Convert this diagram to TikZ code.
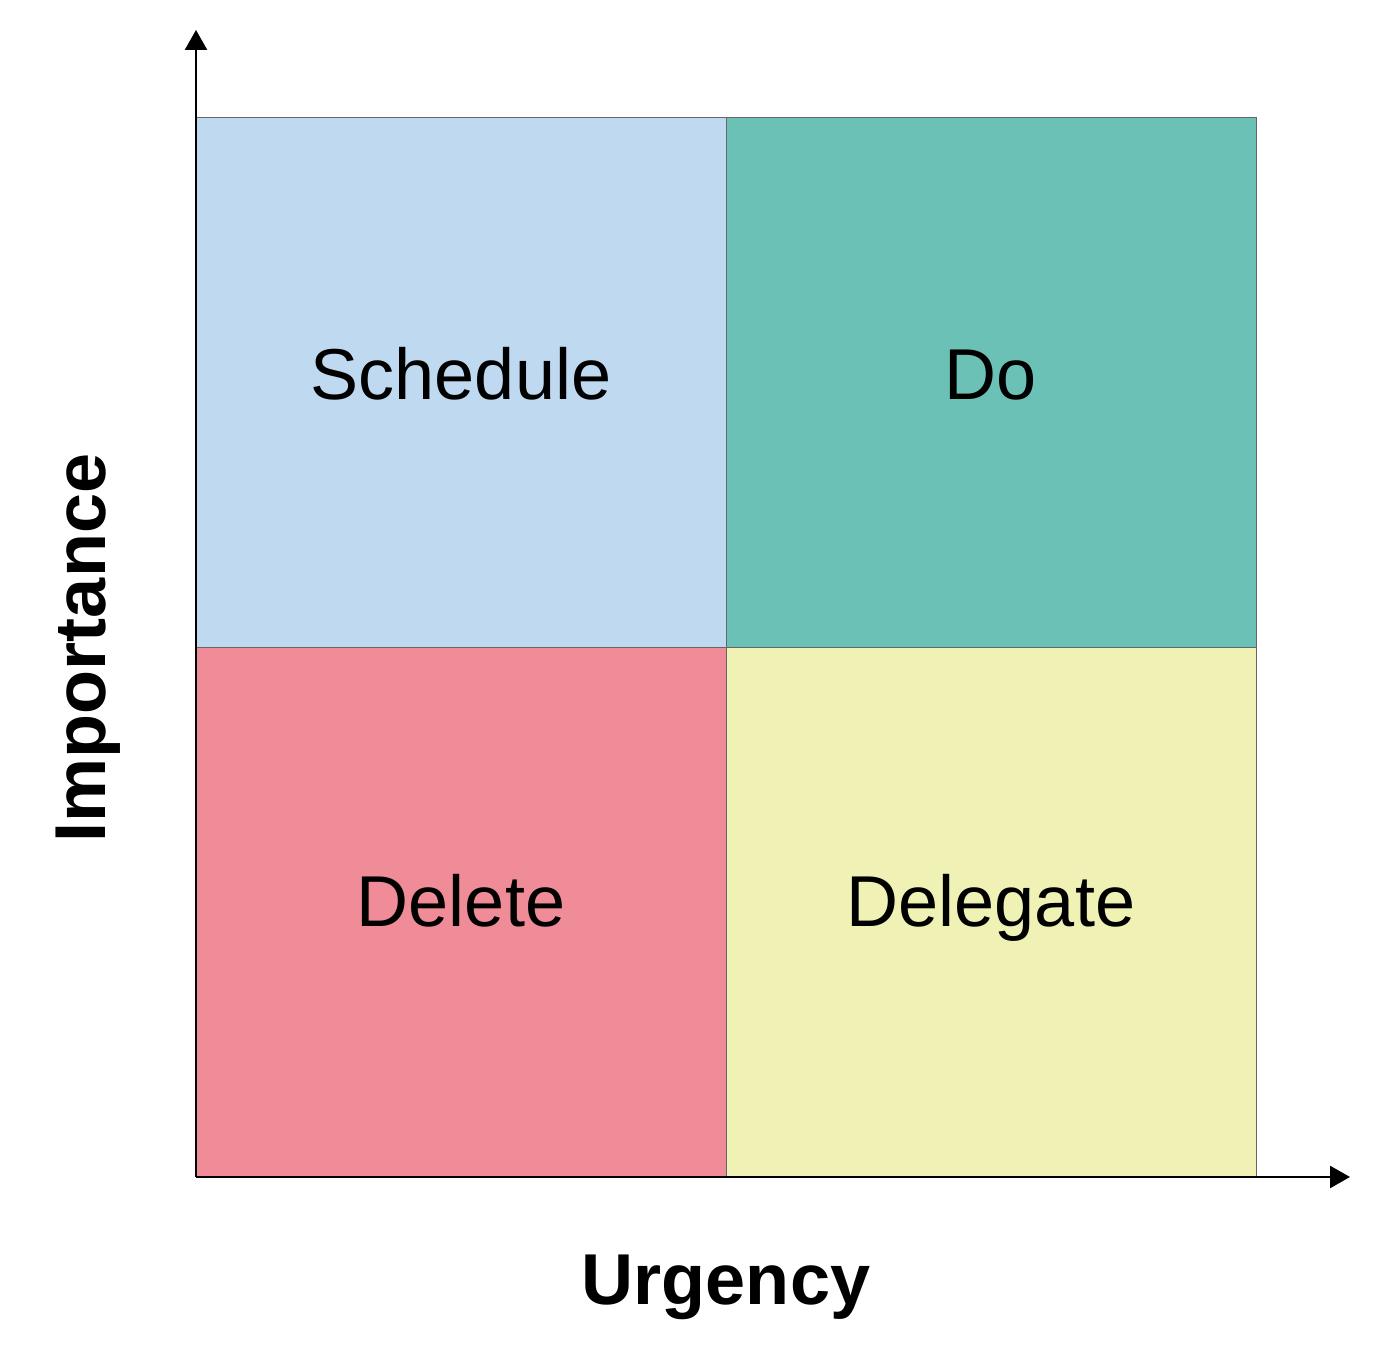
\documentclass[tikz,border=0pt]{standalone}
\usepackage{fontspec}
\setmainfont{Liberation Sans}
\usetikzlibrary{arrows.meta}
\definecolor{schedblue}{HTML}{BFDAF0}
\definecolor{doteal}{HTML}{6CC1B6}
\definecolor{delpink}{HTML}{F08C98}
\definecolor{delyellow}{HTML}{F0F1B4}
\begin{document}
\begin{tikzpicture}[
		quad/.style={draw=black!60, line width=0.4pt},
		quadtext/.style={anchor=base, font=\fontsize{41}{46}\selectfont},
		axislabel/.style={font=\fontsize{41}{46}\selectfont\bfseries},
		axis/.style={line width=1.4pt, -{Triangle[length=0.4cm, width=0.44cm]}}]
		\useasboundingbox (0,0) rectangle (28,27.06);
		
		% 四个象限
		\draw[quad, fill=schedblue] (3.92,14.12) rectangle (14.52,24.72);
		\draw[quad, fill=doteal] (14.52,14.12) rectangle (25.12,24.72);
		\draw[quad, fill=delpink] (3.92,3.52) rectangle (14.52,14.12);
		\draw[quad, fill=delyellow] (14.52,3.52) rectangle (25.12,14.12);
		
		% 象限文字
		\node[quadtext] (schedule) at (9.22,19.06) {Schedule};
		\node[quadtext] (do) at (19.82,19.06) {Do};
		\node[quadtext] (delete) at (9.22,8.52) {Delete};
		\node[quadtext] (delegate) at (19.82,8.52) {Delegate};
		
		% 坐标轴
		\coordinate (origin) at (3.92,3.52);
		\coordinate (xend) at (27.0,3.52);
		\coordinate (yend) at (3.92,26.46);
		\draw[axis] (origin) -- (xend);
		\draw[axis] (origin) -- (yend);
		
		% 轴标签
		\node[axislabel, anchor=base] (urgency) at (14.52,0.96) {Urgency};
		\node[axislabel, rotate=90] (importance) at (1.76,14.10) {Importance};
	\end{tikzpicture}
\end{document}
